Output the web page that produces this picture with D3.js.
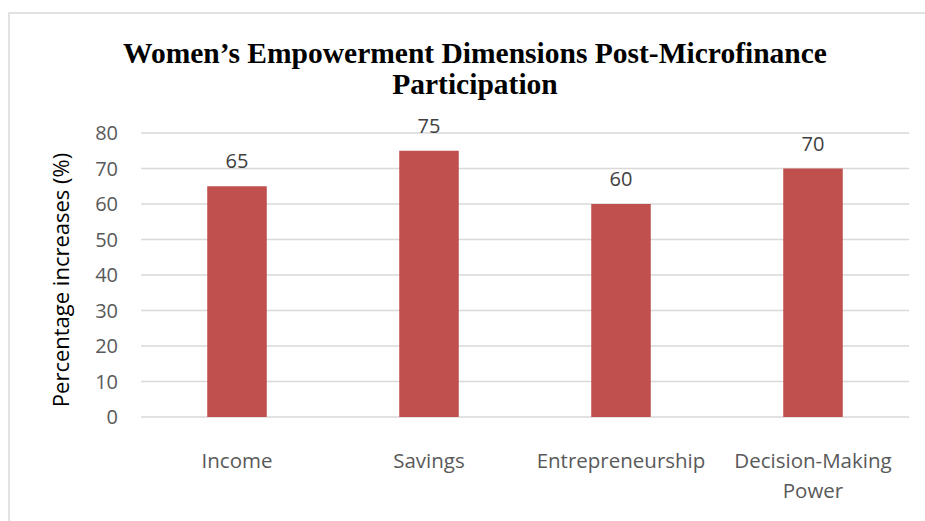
<!DOCTYPE html>
<html><head><meta charset="utf-8">
<script src="https://cdn.jsdelivr.net/npm/d3@7"></script>
<style>body{margin:0;background:#fff;} svg{display:block;}</style>
</head><body>
<script>
const categories = ["Income", "Savings", "Entrepreneurship", "Decision-Making Power"];
const values = [65, 75, 60, 70];
const yTicks = [0, 10, 20, 30, 40, 50, 60, 70, 80];
const titleLines = ["Women\u2019s Empowerment Dimensions Post-Microfinance", "Participation"];
const yTitle = "Percentage increases (%)";

const W = 925, H = 521;
const svg = d3.select("body").append("svg").attr("width", W).attr("height", H);

// chart border
svg.append("rect").attr("x", 9).attr("y", 13).attr("width", 930).attr("height", 530)
  .attr("fill", "#fff").attr("stroke", "#D9D9D9").attr("stroke-width", 1.5);

const plot = {left: 141, right: 909, top: 133, bottom: 417};
const x = d3.scaleBand().domain(categories).range([plot.left, plot.right]).padding(0);
const y = d3.scaleLinear().domain([0, 80]).range([plot.bottom, plot.top]);

const sansFont = "'Open Sans', sans-serif";

// gridlines
svg.append("g").selectAll("line").data(yTicks).join("line")
  .attr("x1", plot.left).attr("x2", plot.right)
  .attr("y1", d => y(d)).attr("y2", d => y(d))
  .attr("stroke", "#D9D9D9").attr("stroke-width", 1.3);

// y tick labels
svg.append("g").selectAll("text").data(yTicks).join("text")
  .attr("x", 118).attr("y", d => y(d)).attr("dy", "0.35em")
  .attr("text-anchor", "end").attr("fill", "#595959")
  .style("font-family", sansFont).style("font-size", "20px")
  .text(d => d);

// bars
const bw = x.bandwidth() * 0.31;
svg.append("g").selectAll("rect").data(values).join("rect")
  .attr("x", (d, i) => x(categories[i]) + x.bandwidth() / 2 - bw / 2)
  .attr("width", bw)
  .attr("y", d => y(d)).attr("height", d => y(0) - y(d))
  .attr("fill", "#C0504D");

// data labels
svg.append("g").selectAll("text").data(values).join("text")
  .attr("x", (d, i) => x(categories[i]) + x.bandwidth() / 2)
  .attr("y", d => y(d) - 18)
  .attr("text-anchor", "middle").attr("fill", "#404040")
  .style("font-family", sansFont).style("font-size", "20px")
  .text(d => d);

// category labels (wrapped)
const catG = svg.append("g");
categories.forEach((c, i) => {
  const lines = c === "Decision-Making Power" ? ["Decision-Making", "Power"] : [c];
  const t = catG.append("text")
    .attr("text-anchor", "middle").attr("fill", "#595959")
    .style("font-family", sansFont).style("font-size", "20.5px");
  lines.forEach((l, k) => {
    t.append("tspan").attr("x", x(c) + x.bandwidth() / 2).attr("y", 468 + k * 30).text(l);
  });
});

// y-axis title
svg.append("text")
  .attr("transform", "translate(69,280) rotate(-90)")
  .attr("text-anchor", "middle").attr("fill", "#000")
  .style("font-family", sansFont).style("font-size", "22px")
  .text(yTitle);

// title
const tt = svg.append("text").attr("text-anchor", "middle").attr("fill", "#000")
  .style("font-family", "'Liberation Serif', 'Times New Roman', serif")
  .style("font-size", "29.5px").style("font-weight", "bold");
titleLines.forEach((l, k) => {
  tt.append("tspan").attr("x", 475).attr("y", 63 + k * 31).text(l);
});
</script>
</body></html>
